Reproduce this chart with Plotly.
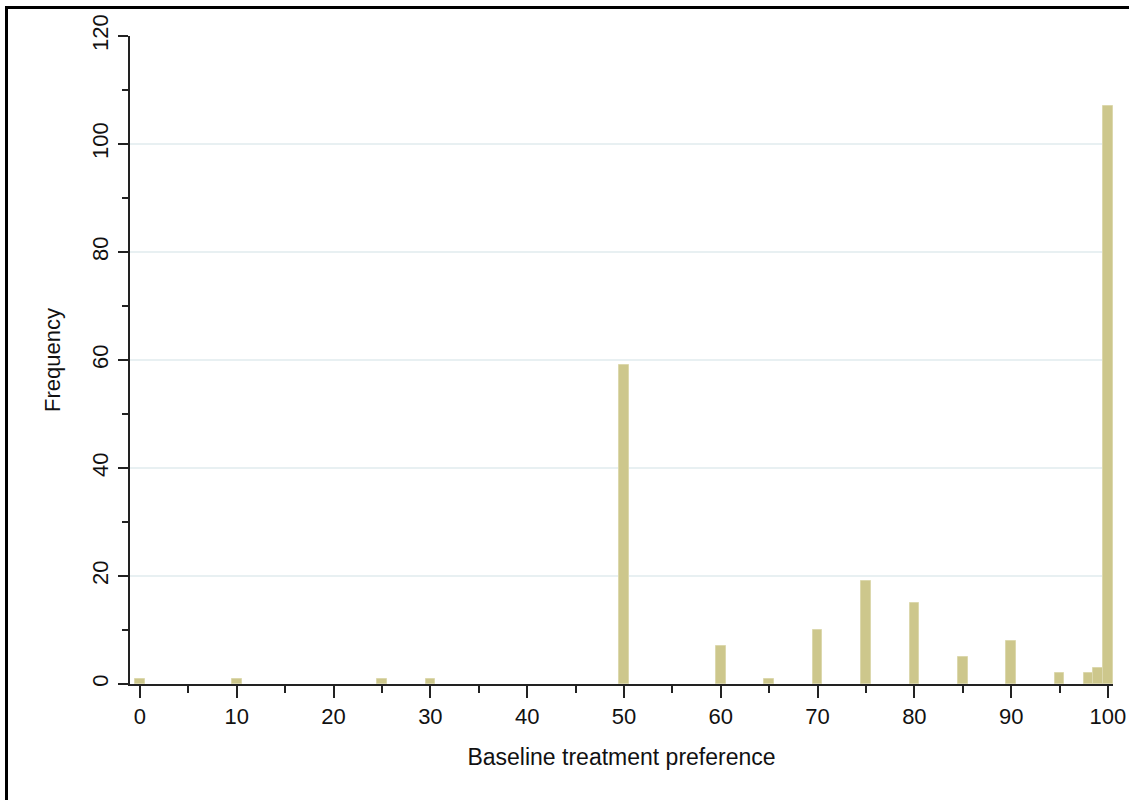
import plotly.graph_objects as go

preference = [0, 10, 25, 30, 50, 60, 65, 70, 75, 80, 85, 90, 95, 98, 99, 100]
frequency = [1, 1, 1, 1, 59, 7, 1, 10, 19, 15, 5, 8, 2, 2, 3, 107]

x_ticks = list(range(0, 101, 10))
y_ticks = list(range(0, 121, 20))

W, H = 1129, 800
L, R, T, B = 130, 16, 36, 116
pw, ph = W - L - R, H - T - B

FONT = "Liberation Sans, Arial, sans-serif"

fig = go.Figure(go.Bar(
    x=preference, y=frequency, width=1.0,
    marker=dict(color="#cdc78c", line=dict(color="#dcd8ad", width=1)),
))

fig.update_layout(
    width=W, height=H,
    margin=dict(l=L, r=R, t=T, b=B, autoexpand=False),
    paper_bgcolor="white", plot_bgcolor="white",
    showlegend=False, bargap=0,
    font=dict(family=FONT, size=22, color="#111"),
    shapes=[
        dict(type="line", xref="paper", yref="paper",
             x0=(5 - L) / pw, x1=(W + 20 - L) / pw,
             y0=(H - B - 7.5) / ph, y1=(H - B - 7.5) / ph,
             line=dict(color="black", width=3)),
        dict(type="line", xref="paper", yref="paper",
             x0=(6.5 - L) / pw, x1=(6.5 - L) / pw,
             y0=(H - B - 6) / ph, y1=(H - B - (H + 20)) / ph,
             line=dict(color="black", width=3)),
    ],
)

fig.update_xaxes(
    range=[-1.03, 100.52],
    tickvals=x_ticks, ticktext=[str(v) for v in x_ticks],
    ticks="outside", ticklen=12, tickwidth=1.5, tickcolor="#222",
    showline=True, linecolor="#222", linewidth=1.5,
    showgrid=False, zeroline=False,
    minor=dict(dtick=5, tick0=0, ticks="outside", ticklen=7, tickwidth=1.5,
               tickcolor="#222", showgrid=False),
    tickfont=dict(size=22),
    title=dict(text="Baseline treatment preference", font=dict(size=23), standoff=21),
)

fig.update_yaxes(
    range=[0, 120],
    tickvals=y_ticks, ticktext=[str(v) for v in y_ticks],
    tickangle=-90, ticklabelstandoff=1,
    ticks="outside", ticklen=10, tickwidth=1.5, tickcolor="#222",
    showline=True, linecolor="#222", linewidth=1.5,
    showgrid=True, gridcolor="#e8f0f2", gridwidth=1.5,
    zeroline=False,
    minor=dict(dtick=10, tick0=0, ticks="outside", ticklen=6, tickwidth=1.5,
               tickcolor="#222", showgrid=False),
    tickfont=dict(size=22),
    title=dict(text="Frequency", font=dict(size=22), standoff=22),
)

fig.write_html(
    "out.html",
    config={"displayModeBar": False},
    post_script="document.body.style.margin='0';document.body.style.padding='0';",
)
